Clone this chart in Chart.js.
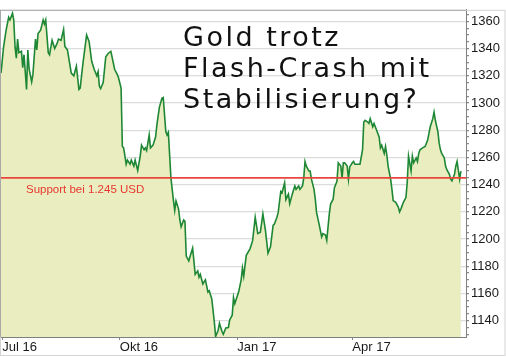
<!DOCTYPE html>
<html>
<head>
<meta charset="utf-8">
<script src="https://cdn.jsdelivr.net/npm/chart.js@4.4.1/dist/chart.umd.min.js"></script>
<style>
  html, body { margin: 0; padding: 0; background: #ffffff; }
  #wrap { width: 506px; height: 357px; position: relative; }
  canvas { display: block; }
</style>
</head>
<body>
<div id="wrap"><canvas id="c" width="506" height="357" style="width:506px;height:357px"></canvas></div>
<script>
// ---- data (days since 1 Jul 2016, gold price USD) ----
const days = [-1,1,3,5,6,8,9,10,11,12,13,15,16,17,19,20,21,23,24,26,27,28,30,32,33,34,36,37,39,41,43,44,46,48,49,51,54,56,58,60,61,63,66,68,70,72,74,75,76,77,79,81,83,85,88,90,91,93,94,95,97,98,100,101,103,104,106,108,109,111,112,113,115,116,118,120,121,123,125,126,128,129,130,131,132,134,135,136,138,139,140,142,143,144,146,149,150,151,153,154,155,157,159,161,162,164,166,167,169,170,172,173,175,177,178,180,181,182,185,187,188,189,191,194,196,198,200,202,204,206,208,210,212,213,215,216,218,219,221,222,224,225,227,229,230,232,233,235,236,237,238,240,241,242,244,245,246,248,250,251,253,254,256,257,259,260,262,263,265,266,267,268,270,271,272,274,275,276,279,280,282,283,284,286,287,288,290,291,292,295,296,297,299,300,301,302,304,305,306,308,310,311,312,314,316,317,318,320,321,322,324,325,326,327,329,331,333,334,335,337,338,339,341,342,343,344,346,347,348,350,351,352,354,355,356,358,359];
const prices = [1322,1341,1353.5,1363,1361,1366,1361,1341,1333,1347,1337,1338,1326,1335.5,1310,1339,1325,1315.5,1321,1347,1339,1351,1353.5,1361,1358,1361,1337,1335.5,1346,1340,1344,1347,1346,1354,1341.5,1339,1322,1320,1327,1310,1311,1328,1350,1345,1330.6,1324.6,1320,1323,1312.5,1310.6,1315,1334,1336.6,1338,1324.6,1321,1318.6,1311,1268,1267,1255,1258,1255,1258,1253.6,1258,1250.5,1261,1269,1265.6,1267,1265,1276.5,1267,1269,1275,1283.7,1297,1303.4,1304,1279,1276.5,1278.4,1262,1245,1228.3,1221,1228,1222,1214,1209,1214,1213,1187.5,1184,1193.4,1184,1174,1176.6,1172,1174,1167,1170,1161,1162,1156,1139,1128.4,1133,1138,1132,1130,1134.6,1135,1140.5,1144,1157,1152.5,1161,1170,1178.7,1172.7,1188,1193,1199,1216,1204,1205,1218.5,1206.4,1189.6,1194.4,1210,1211,1216,1219.6,1235,1234,1241.3,1229,1233,1226,1233,1239,1236.5,1239,1236.5,1239,1245,1257,1253.6,1250,1250,1244,1236.7,1229.5,1219.6,1211,1201.6,1204,1203,1199,1218.5,1225.7,1229.3,1237.7,1242.5,1256,1253.6,1245,1256,1256,1253.6,1244,1253,1256,1257,1255,1255,1255,1265.6,1286,1287.3,1286,1285,1288.5,1282.5,1285,1282.5,1275,1267,1269,1263,1268,1262,1253.6,1244,1236.7,1228.3,1227,1223.5,1220,1222,1227,1230.7,1241.6,1261,1250,1261,1256,1259.6,1257,1263,1265.6,1267,1268,1272.8,1277.7,1282.5,1288.5,1293.3,1287.3,1278.8,1270.5,1265.6,1263,1259.6,1253.6,1251,1247.6,1244,1242.7,1247.6,1253.6,1257,1244,1250];

const xTickDays = [0, 92, 184, 274];
const xTickLabels = ['Jul 16', 'Okt 16', 'Jan 17', 'Apr 17'];
const yTickLabels = [1140, 1160, 1180, 1200, 1220, 1240, 1260, 1280, 1300, 1320, 1340, 1360];
const supportLevel = 1245;
const supportLabel = 'Support bei 1.245 USD';
const titleLines = ['Gold trotz', 'Flash-Crash mit', 'Stabilisierung?'];

const X_MIN = -1, X_MAX = 363;
const Y_MIN = 1128, Y_MAX = 1368.5;

const decor = {
  id: 'decor',
  beforeDraw(chart) {
    const ctx = chart.ctx;
    ctx.save();
    ctx.fillStyle = '#ffffff';
    ctx.fillRect(0, 0, chart.width, chart.height);
    ctx.restore();
  },
  afterDatasetsDraw(chart) {
    const ctx = chart.ctx;
    const a = chart.chartArea;
    const ys = chart.scales.y;
    ctx.save();
    // support label
    ctx.fillStyle = '#e8372f';
    ctx.font = '11.5px "Liberation Sans", Arial, sans-serif';
    ctx.textBaseline = 'middle';
    ctx.textAlign = 'left';
    ctx.fillText(supportLabel, a.left + 25, ys.getPixelForValue(supportLevel) + 12);
    // title
    ctx.fillStyle = '#111111';
    ctx.font = '27px "DejaVu Sans", sans-serif';
    ctx.textBaseline = 'alphabetic';
    try { ctx.letterSpacing = '2.5px'; } catch (e) {}
    titleLines.forEach((t, i) => ctx.fillText(t, a.left + 182, a.top + 36 + i * 31));
    ctx.restore();
  },
  afterDraw(chart) {
    const ctx = chart.ctx;
    const a = chart.chartArea;
    ctx.save();
    ctx.lineWidth = 1;
    ctx.strokeStyle = '#d4d4d4';
    ctx.strokeRect(0.5, a.top + 0.5, chart.width - 1.5, chart.height - a.top - 2);
    ctx.strokeStyle = '#a8a8a8';
    ctx.beginPath();
    ctx.moveTo(0.5, a.top + 0.5);
    ctx.lineTo(a.right, a.top + 0.5);
    ctx.moveTo(0.5, a.top);
    ctx.lineTo(0.5, a.bottom);
    ctx.stroke();
    ctx.restore();
  }
};

new Chart(document.getElementById('c'), {
  type: 'line',
  data: {
    datasets: [
      {
        data: [{ x: X_MIN, y: supportLevel }, { x: X_MAX, y: supportLevel }],
        borderColor: '#e8463d',
        borderWidth: 1.8,
        pointRadius: 0,
        fill: false
      },
      {
        data: days.map((d, i) => ({ x: d, y: prices[i] })),
        borderColor: '#1d8734',
        borderWidth: 1.6,
        backgroundColor: '#eaedbf',
        fill: 'start',
        pointRadius: 0,
        tension: 0
      }
    ]
  },
  options: {
    responsive: false,
    devicePixelRatio: 1,
    animation: false,
    layout: { padding: { top: 3, left: 1, right: 0, bottom: 0 } },
    plugins: { legend: { display: false }, tooltip: { enabled: false } },
    scales: {
      x: {
        type: 'linear',
        min: X_MIN,
        max: X_MAX,
        afterBuildTicks(scale) { scale.ticks = xTickDays.map(v => ({ value: v })); },
        afterFit(scale) { scale.height = 20; },
        grid: { drawOnChartArea: false, drawTicks: true, tickLength: 3, tickColor: '#888888' },
        border: { display: true, color: '#808080', width: 1 },
        ticks: {
          align: 'start',
          padding: 0,
          maxRotation: 0,
          autoSkip: false,
          color: '#1a1a1a',
          font: { family: '"Liberation Sans", Arial, sans-serif', size: 13 },
          callback(v) { const i = xTickDays.indexOf(v); return i >= 0 ? xTickLabels[i] : ''; }
        }
      },
      y: {
        type: 'linear',
        position: 'right',
        min: Y_MIN,
        max: Y_MAX,
        afterBuildTicks(scale) {
          const t = [];
          for (let v = yTickLabels[0] - 10; v <= yTickLabels[yTickLabels.length - 1] + 5; v += 5) t.push({ value: v });
          scale.ticks = t;
        },
        afterFit(scale) { scale.width = 40; },
        grid: {
          drawTicks: true,
          tickLength: 3,
          color: c => (yTickLabels.includes(c.tick && c.tick.value) ? '#dcdcdc' : 'rgba(0,0,0,0)'),
          tickColor: '#8a8a8a',
          lineWidth: 1.2
        },
        border: { display: true, color: '#808080', width: 1 },
        ticks: {
          padding: 2,
          autoSkip: false,
          color: '#1a1a1a',
          font: { family: '"Liberation Sans", Arial, sans-serif', size: 13 },
          callback(v) { return yTickLabels.includes(v) ? String(v) : ''; }
        }
      }
    }
  },
  plugins: [decor]
});
</script>
</body>
</html>
